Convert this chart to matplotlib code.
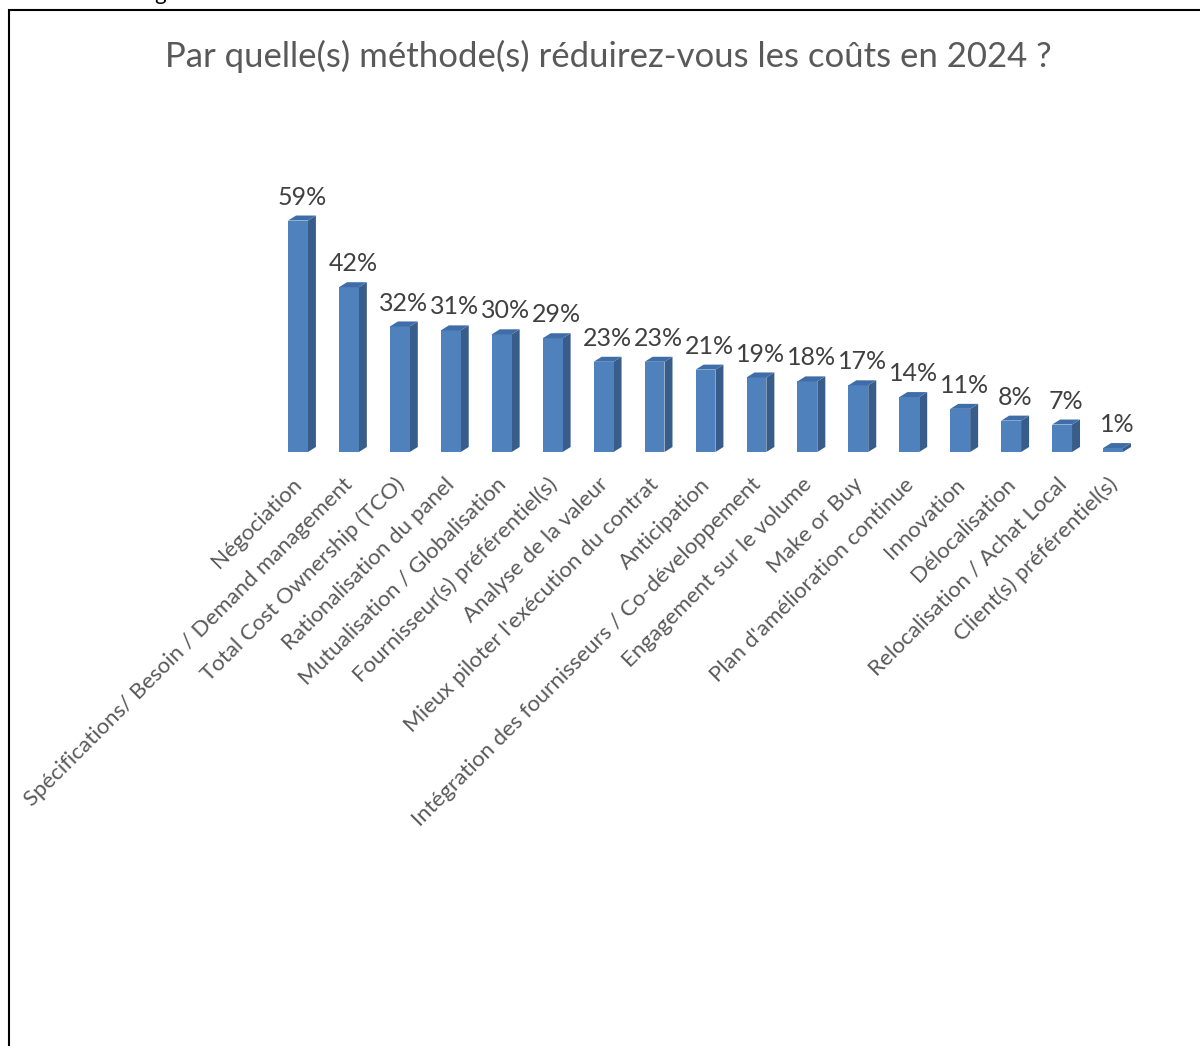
import numpy as np
import matplotlib.pyplot as plt
import matplotlib.transforms as mtransforms
from matplotlib.patches import Polygon, Rectangle

plt.rcParams['font.family'] = ['Lato', 'DejaVu Sans']

# Data
methods = [
    "Négociation",
    "Spécifications/ Besoin / Demand management",
    "Total Cost Ownership (TCO)",
    "Rationalisation du panel",
    "Mutualisation / Globalisation",
    "Fournisseur(s) préférentiel(s)",
    "Analyse de la valeur",
    "Mieux piloter l'exécution du contrat",
    "Anticipation",
    "Intégration des fournisseurs / Co-développement",
    "Engagement sur le volume",
    "Make or Buy",
    "Plan d'amélioration continue",
    "Innovation",
    "Délocalisation",
    "Relocalisation / Achat Local",
    "Client(s) préférentiel(s)",
]
shares = [59, 42, 32, 31, 30, 29, 23, 23, 21, 19, 18, 17, 14, 11, 8, 7, 1]
title = "Par quelle(s) méthode(s) réduirez-vous les coûts en 2024 ?"

front_col = '#4F81BD'
side_col = '#385D8A'
top_col = '#3F6DA8'
text_col = '#595959'

W, H = 1200, 1046
fig = plt.figure(figsize=(W / 100, H / 100), dpi=100)

# axes placed so that bar centres / baseline land where the reference has them
ax_l, ax_r = 272.5, 1138.5
base_y, top_y = 452, 197
ax = fig.add_axes([ax_l / W, (H - base_y) / H, (ax_r - ax_l) / W, (base_y - top_y) / H])
ymax = 65
ax.set_xlim(-0.5, len(methods) - 0.5)
ax.set_ylim(0, ymax)

x = np.arange(len(methods))
bw = 0.39
ax.bar(x, shares, width=bw, color=front_col, edgecolor='none', zorder=3)

# fake 3D depth: side and top faces
px_per_x = (ax_r - ax_l) / len(methods)
px_per_y = (base_y - top_y) / ymax
ddx = 8 / px_per_x
ddy = 5 / px_per_y
for xi, v in zip(x, shares):
    l, r = xi - bw / 2, xi + bw / 2
    ax.add_patch(Polygon([(r, 0), (r + ddx, ddy), (r + ddx, v + ddy), (r, v)],
                         closed=True, facecolor=side_col, edgecolor='none', zorder=2))
    ax.add_patch(Polygon([(l, v), (r, v), (r + ddx, v + ddy), (l + ddx, v + ddy)],
                         closed=True, facecolor=top_col, edgecolor='none', zorder=4))
    ax.annotate(f"{v}%", (xi + ddx / 2, v + ddy), xytext=(0, 5), textcoords='offset points',
                ha='center', va='bottom', fontsize=18, color='#404040')

ax.set_xticks(x)
ax.set_xticklabels(methods, rotation=45, ha='right', rotation_mode='anchor',
                   fontsize=16, color=text_col)
ax.tick_params(axis='x', length=0, pad=16)
shift = mtransforms.ScaledTranslation(-6 / 100, 0, fig.dpi_scale_trans)
for lab in ax.get_xticklabels():
    lab.set_transform(lab.get_transform() + shift)
ax.set_yticks([])
for s in ax.spines.values():
    s.set_visible(False)
ax.patch.set_alpha(0)

fig.text(608 / W, 1 - 56 / H, title, ha='center', va='center', fontsize=25, color=text_col)

# outer frame (chart area border, bottom edge off-page)
fig.patches.append(Rectangle((9 / W, -0.1), 1.5, 1 - 10 / H + 0.1, transform=fig.transFigure,
                             fill=False, edgecolor='black', linewidth=1.5))
# text from the page above, cut by the top edge as in the reference
fig.text(160 / W, 1 - 0 / H, "g", ha='center', va='baseline', fontsize=16, color='black')

fig.savefig('out.png', dpi=100)
